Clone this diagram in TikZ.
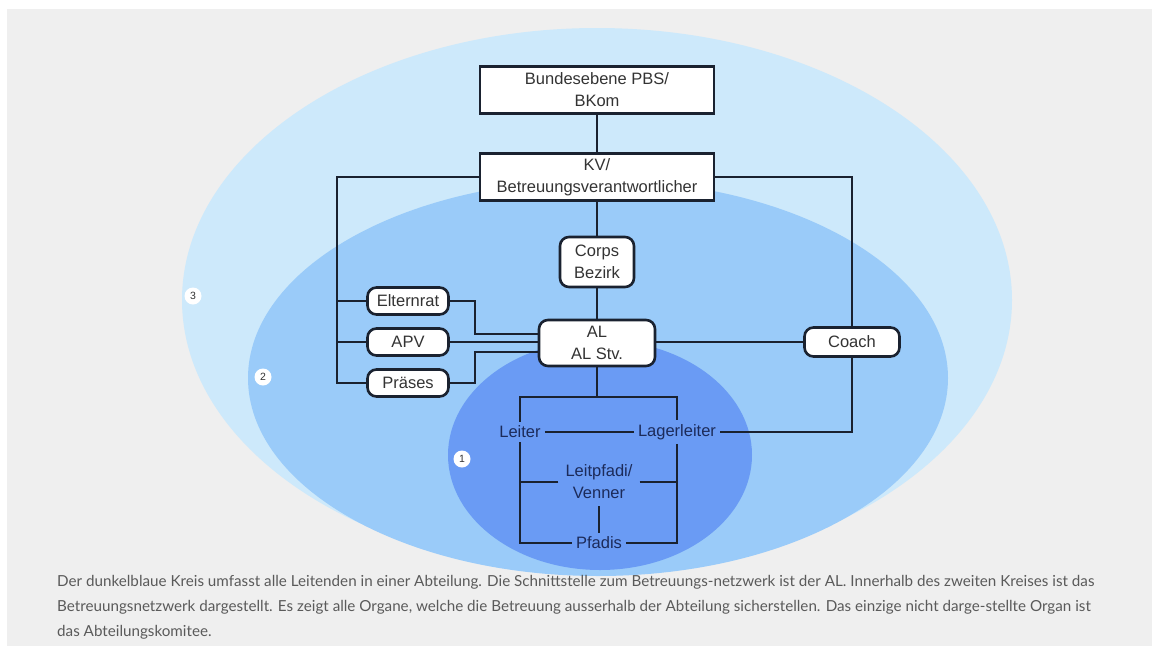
\documentclass[tikz,border=0pt]{standalone}
\usepackage{fontspec}
\setmainfont{Liberation Sans}
\newfontfamily\capfont{Lato}
\usetikzlibrary{positioning,calc}
\definecolor{pagegray}{HTML}{EFEFEF}
\definecolor{ringthree}{HTML}{CDE9FB}
\definecolor{ringtwo}{HTML}{9ACBF9}
\definecolor{ringone}{HTML}{6A9BF4}
\definecolor{linedark}{HTML}{1A2230}
\definecolor{boxtext}{HTML}{333333}
\definecolor{navytext}{HTML}{1C2B5A}
\definecolor{captext}{HTML}{5A5A5A}
\tikzstyle{sqbox}=[rectangle, draw=linedark, fill=white, line width=2.6pt,
                   minimum width=234pt, minimum height=47pt, inner sep=2pt,
                   align=center, text=boxtext, font=\fontsize{16.5}{22}\selectfont]
\tikzstyle{rbox}=[rectangle, rounded corners=9pt, draw=linedark, fill=white,
                  line width=2.6pt, inner sep=2pt, align=center, text=boxtext,
                  font=\fontsize{16.5}{22}\selectfont]
\tikzstyle{plabel}=[inner sep=4pt, align=center, text=navytext,
                    font=\fontsize{16.5}{22}\selectfont]
\tikzstyle{badge}=[circle, fill=white, inner sep=0pt, minimum size=17pt,
                   text=boxtext, font=\fontsize{10.5}{10.5}\selectfont]
\tikzstyle{capline}=[anchor=west, inner sep=0pt, text=captext,
                     font=\capfont\fontsize{15.2}{15.2}\selectfont]
\tikzstyle{pline}=[-, line width=1.8pt, draw=linedark]

\begin{document}
\begin{tikzpicture}[x=1pt, y=-1pt]

\useasboundingbox (0,0) rectangle (1152,646);
\fill[pagegray] (7,9) rectangle (1152,646);

\begin{scope}
\clip (7,9) rectangle (1152,576);
\fill[ringthree] (597,300) ellipse [x radius=415, y radius=272];
\fill[ringtwo] (598,378) ellipse [x radius=350, y radius=198];
\fill[ringone] (600,455) ellipse [x radius=152, y radius=115];
\end{scope}

\node (BUND) [sqbox] at (597,90) {Bundesebene PBS/\\BKom};
\node (KV) [sqbox] at (597,177) {KV/\\Betreuungsverantwortlicher};
\node (CORPS) [rbox, minimum width=74pt, minimum height=50pt] at (597,262) {Corps\\Bezirk};
\node (AL) [rbox, minimum width=116pt, minimum height=46pt] at (597,343) {AL\\AL Stv.};

\node (ELT) [rbox, minimum width=81pt, minimum height=27pt] at (408,301) {Elternrat};
\node (APV) [rbox, minimum width=81pt, minimum height=27pt] at (408,342) {APV};
\node (PRAES) [rbox, minimum width=81pt, minimum height=27pt] at (408,383) {Präses};
\node (COACH) [rbox, minimum width=95pt, minimum height=29pt] at (852,342) {Coach};

\node (LEITER) [plabel] at (520,432) {Leiter};
\node (LAGER) [plabel] at (677,432) {Lagerleiter};
\node (LEITP) [plabel, inner sep=7pt] at (599,482) {Leitpfadi/\\Venner};
\node (PFADIS) [plabel] at (599,543) {Pfadis};

\node (B3) [badge] at (193,296) {3};
\node (B2) [badge] at (263,377) {2};
\node (B1) [badge] at (462,459) {1};

\coordinate (LBUS) at (337,383);
\coordinate (ELJ) at (475,334);
\coordinate (PRJ) at (475,352);
\coordinate (TJ) at (597,397);

\draw[pline] (BUND) -- (KV);
\draw[pline] (KV) -- (CORPS);
\draw[pline] (CORPS) -- (AL);
\draw[pline] (KV.west) -| (LBUS) -- (PRAES.west);
\draw[pline] (ELT.west) -- (ELT.west -| LBUS);
\draw[pline] (APV.west) -- (APV.west -| LBUS);
\draw[pline] (KV.east) -| (COACH.north);
\draw[pline] (COACH.south) |- (LAGER.east);
\draw[pline] (ELT.east) -| (ELJ) -- (ELJ -| AL.west);
\draw[pline] (APV.east) -- (APV.east -| AL.west);
\draw[pline] (PRAES.east) -| (PRJ) -- (PRJ -| AL.west);
\draw[pline] (AL.east |- COACH.west) -- (COACH.west);
\draw[pline] (AL.south) -- (TJ);
\draw[pline] (LEITER.north) |- (TJ) -| (LAGER.north);
\draw[pline] (LEITER) -- (LAGER);
\draw[pline] (LEITER.south) |- (PFADIS.west);
\draw[pline] (LAGER.south) |- (PFADIS.east);
\draw[pline] (LEITP.west) -- (LEITP.west -| LEITER.south);
\draw[pline] (LEITP.east) -- (LEITP.east -| LAGER.south);
\draw[pline] (LEITP) -- (PFADIS);

\node (CAP1) [capline] at (57,582) {Der dunkelblaue Kreis umfasst alle Leitenden in einer Abteilung. Die Schnittstelle zum Betreuungs-netzwerk ist der AL. Innerhalb des zweiten Kreises ist das};
\node (CAP2) [capline] at (57,607) {Betreuungsnetzwerk dargestellt. Es zeigt alle Organe, welche die Betreuung ausserhalb der Abteilung sicherstellen. Das einzige nicht darge-stellte Organ ist};
\node (CAP3) [capline] at (57,632) {das Abteilungskomitee.};

\end{tikzpicture}
\end{document}
